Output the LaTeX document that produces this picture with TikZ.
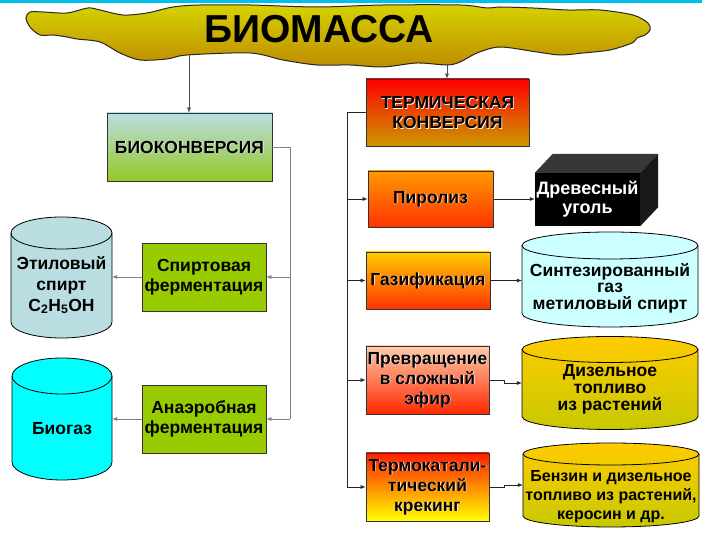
\documentclass[tikz,border=0pt]{standalone}
\usepackage{fontspec}
\setmainfont{Liberation Sans}
\usetikzlibrary{arrows.meta}
\definecolor{topcyan}{RGB}{0,192,232}
\definecolor{blobtop}{RGB}{214,210,0}
\definecolor{blobbot}{RGB}{190,140,0}
\definecolor{biotop}{RGB}{186,222,226}
\definecolor{biobot}{RGB}{150,200,40}
\definecolor{fgreen}{RGB}{153,204,0}
\definecolor{ethcol}{RGB}{185,221,225}
\definecolor{cyanc}{RGB}{0,255,255}
\definecolor{syncol}{RGB}{204,255,255}
\definecolor{diztop}{RGB}{255,204,0}
\definecolor{dizbot}{RGB}{200,200,0}
\definecolor{redc}{RGB}{255,0,0}
\definecolor{yellowc}{RGB}{255,255,0}
\definecolor{termbot}{RGB}{204,153,0}
\definecolor{salmon}{RGB}{255,204,170}
\definecolor{lgray}{RGB}{128,128,128}
\definecolor{coaltop}{RGB}{55,55,55}
\definecolor{coalside}{RGB}{25,25,25}
\newcommand{\bfont}{\fontsize{17.5}{20}\selectfont\bfseries}
\newcommand{\drawcyl}[7]{%
  \pgfmathsetmacro{\cxl}{#2-#4/2}%
  \pgfmathsetmacro{\cxr}{#2+#4/2}%
  \pgfmathsetmacro{\cyt}{#3+#5/2-#6}%
  \pgfmathsetmacro{\cyb}{#3-#5/2+#6}%
  \pgfmathsetmacro{\crx}{#4/2}%
  \path[#7, draw=black, line width=0.8pt] (\cxl,\cyt) -- (\cxl,\cyb)
    arc[start angle=180, end angle=360, x radius=\crx pt, y radius=#6pt]
    -- (\cxr,\cyt)
    arc[start angle=0, end angle=180, x radius=\crx pt, y radius=#6pt] -- cycle;
  \draw[line width=0.8pt] (\cxl,\cyt)
    arc[start angle=180, end angle=360, x radius=\crx pt, y radius=#6pt];
  \node[minimum width=#4, minimum height=#5, inner sep=0pt] (#1) at (#2,#3) {};
}
\begin{document}
\begin{tikzpicture}[x=1pt, y=1pt,
  box/.style={draw=black!80, line width=0.8pt, inner sep=0pt, font=\bfont, align=center},
  shd/.style={path picture={\node[font=\bfont, align=center, text=white, inner sep=0pt]
      at ([shift={(0.7pt,-0.7pt)}]path picture bounding box.center) {#1};}},
  ctext/.style={align=center, inner sep=0pt},
  arr/.style={-{Latex[length=5pt,width=4pt]}, line width=0.6pt},
  gline/.style={draw=lgray, line width=0.8pt},
  bline/.style={draw=black!85, line width=0.7pt}
]
\useasboundingbox (0,0) rectangle (702,543);
\fill[white] (0,0) rectangle (702,543);
\fill[topcyan] (0,540) rectangle (702,543);

% blob
\path[draw=black!85, line width=1pt, top color=blobtop, bottom color=blobbot]
  plot[smooth cycle, tension=0.5] coordinates {
  (26,525) (30,531) (43,531) (67,530) (88,535) (100,533) (123,528) (147,530)
  (173,536) (200,538) (250,538) (317,536) (383,538) (460,538) (487,535) (500,536)
  (533,535) (567,533) (600,533) (633,528) (648,520) (650,513) (645,508) (637,505)
  (632,500) (610,493) (583,490) (560,488) (537,491) (500,496) (477,490) (460,481)
  (447,478) (417,480) (383,476) (350,478) (317,478) (283,483) (250,490) (187,488)
  (167,484) (140,483) (120,490) (100,501) (77,504) (67,506) (53,508) (40,508) (30,516)};
\node[font=\fontsize{39}{40}\selectfont\bfseries, inner sep=0pt] (biomass) at (319,514) {БИОМАССА};
\coordinate (b1) at (189,488);
\coordinate (b2) at (447,478);

% left branch
\node[box, minimum width=165, minimum height=68, top color=biotop, bottom color=biobot,
  shd={БИОКОНВЕРСИЯ}] (bio) at (189.5,396) {БИОКОНВЕРСИЯ};
\node[box, minimum width=124, minimum height=68, fill=fgreen] (sp) at (204,266) {Спиртовая\\ферментация};
\node[box, minimum width=124, minimum height=68, fill=fgreen] (an) at (204,124) {Анаэробная\\ферментация};

\drawcyl{eth}{61.5}{265.5}{101}{121}{16}{fill=ethcol}
\node[ctext, font=\fontsize{17.5}{21}\selectfont\bfseries] (etht) at (61.5,258) {Этиловый\\спирт\\C\textsubscript{2}H\textsubscript{5}OH};
\drawcyl{bg}{62}{124}{100}{122}{18}{fill=cyanc}
\node[ctext, font=\bfont] (bgt) at (62,114) {Биогаз};

% right branch
\node[box, minimum width=163, minimum height=67, top color=redc, bottom color=termbot,
  shd={ТЕРМИЧЕСКАЯ\\КОНВЕРСИЯ}] (term) at (447.5,430.5) {ТЕРМИЧЕСКАЯ\\КОНВЕРСИЯ};
\node[box, minimum width=125, minimum height=56, top color={rgb,255:red,255;green,153;blue,0},
  bottom color={rgb,255:red,255;green,51;blue,0}, shd={Пиролиз}] (pir) at (430.5,344) {Пиролиз};
\node[box, minimum width=124, minimum height=57, top color={rgb,255:red,255;green,204;blue,0},
  bottom color={rgb,255:red,255;green,51;blue,0}, shd={Газификация}] (gaz) at (428,262.5) {Газификация};
\node[box, minimum width=123, minimum height=68, top color=salmon,
  bottom color={rgb,255:red,255;green,40;blue,0}, shd={Превращение\\в сложный\\эфир}] (prev) at (427.5,163) {Превращение\\в сложный\\эфир};
\node[box, minimum width=123, minimum height=68, top color={rgb,255:red,255;green,30;blue,0},
  bottom color=yellowc, shd={Термокатали-\\тический\\крекинг}] (tk) at (427.5,56) {Термокатали-\\тический\\крекинг};

% coal block
\node[fill=black, minimum width=105, minimum height=53, inner sep=0pt,
  font=\fontsize{18}{19}\selectfont\bfseries, text=white, align=center] (coal) at (587.5,343.5) {Древесный\\уголь};
\fill[coaltop] (coal.north west) -- ++(18,19) -- ([shift={(18,19)}]coal.north east) -- (coal.north east) -- cycle;
\fill[coalside] (coal.north east) -- ++(18,19) -- ([shift={(18,19)}]coal.south east) -- (coal.south east) -- cycle;

\drawcyl{syn}{610}{263.5}{176}{95}{13.5}{fill=syncol}
\node[ctext, font=\fontsize{17.5}{16.5}\selectfont\bfseries] (synt) at (610,255) {Синтезированный\\газ\\метиловый спирт};
\drawcyl{diz}{610}{160}{176}{93}{13}{top color=diztop, bottom color=dizbot}
\node[ctext, font=\fontsize{17.5}{17}\selectfont\bfseries] (dizt) at (610,153.5) {Дизельное\\топливо\\из растений};
\drawcyl{benz}{611}{58}{176}{84}{11}{top color=diztop, bottom color=dizbot}
\node[ctext, font=\fontsize{16}{19}\selectfont\bfseries] (benzt) at (611,46) {Бензин и дизельное\\топливо из растений,\\керосин и др.};

% connectors from biomass
\draw[arr, draw=black!70] (b1) -- (b1 |- bio.north);
\draw[arr, draw=black!70] (b2) -- (b2 |- term.north);

% left bus
\coordinate (lb) at (290,0);
\draw[gline] (bio.east) -| (lb |- an.east);
\draw[gline, arr] (lb |- sp.east) -- (sp.east);
\draw[gline, arr] (lb |- an.east) -- (an.east);
\draw[gline, arr] (sp.west) -- (sp.west -| eth.east);
\draw[gline, arr] (an.west) -- (an.west -| bg.east);

% right bus
\coordinate (rb) at (347,0);
\draw[bline] (term.west) -| (rb |- tk.west);
\draw[bline, arr] (rb |- pir.west) -- (pir.west);
\draw[bline, arr] (rb |- gaz.west) -- (gaz.west);
\draw[bline, arr] (rb |- prev.west) -- (prev.west);
\draw[bline, arr] (rb |- tk.west) -- (tk.west);
\draw[bline, arr] (pir.east) -- (pir.east -| coal.west);
\draw[bline, arr] (gaz.east) -- (gaz.east -| syn.west);
\draw[bline, arr] (prev.east) -- ++(15,0) |- (diz.west);
\draw[bline, arr] (tk.east) -- ++(15,0) |- (benz.west);
\end{tikzpicture}
\end{document}
